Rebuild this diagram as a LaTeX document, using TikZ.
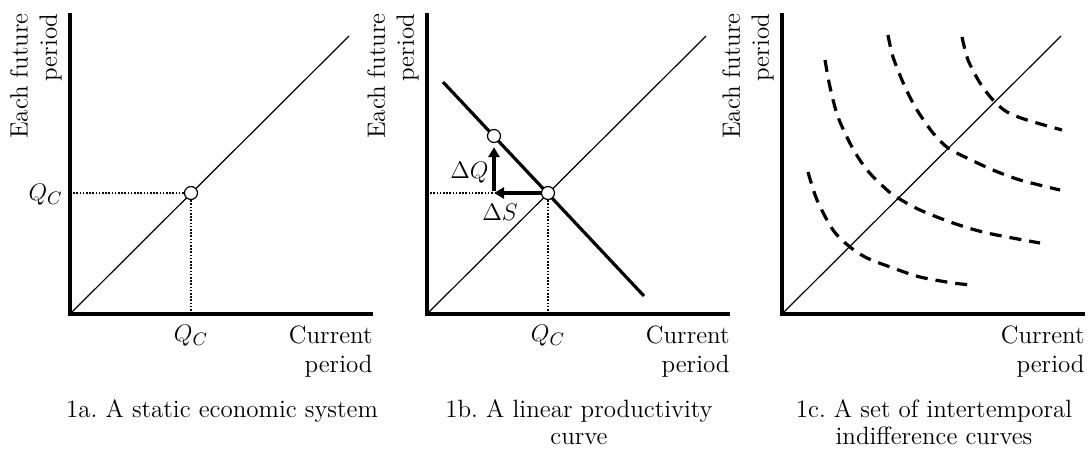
\documentclass[tikz,border=0pt]{standalone}
\usepackage{amsmath}
\usepackage{tikz}
\usetikzlibrary{arrows.meta, positioning}
\frenchspacing

\begin{document}
\begin{tikzpicture}[
  x=0.5pt, y=-0.5pt,
  axis/.style={line width=2pt},
  diag/.style={line width=0.6pt},
  guide/.style={line width=0.6pt, dash pattern=on 0.8pt off 0.8pt},
  dot/.style={circle, draw, fill=white, line width=0.6pt,
              minimum size=6.5pt, inner sep=0pt},
  prodline/.style={line width=1.6pt},
  move/.style={-{Triangle[length=5pt, width=5.5pt]}, line width=1.6pt},
  indiff/.style={line width=1.6pt, dash pattern=on 6pt off 4pt},
  lbl/.style={font=\fontsize{12.5}{14.5}\selectfont, inner sep=0pt},
  caption/.style={font=\fontsize{12.5}{13.8}\selectfont, inner sep=0pt,
                  anchor=north, align=center},
]
  \useasboundingbox (0,0) rectangle (1092,450);

  % the three frames
  \foreach \p/\dx in {a/0, b/357, c/712} {
    \begin{scope}[shift={(\dx,0)}]
      \coordinate (\p-o) at (70,314);
      \coordinate (\p-top) at (70,13);
      \coordinate (\p-end) at (373,314);
      \coordinate (\p-diag) at (349,36);
      \draw[axis] (\p-top) -- (\p-o) -- (\p-end);
      \draw[diag] (\p-o) -- (\p-diag);
      \node[lbl, rotate=90, anchor=south east, align=right] (\p-ylab) at (62,13) {Each future\\period};
      \node[lbl, anchor=north east, align=right] (\p-xlab) at (373,325) {Current\\period};
    \end{scope}
  }

  % 1a
  \node[dot] (a-eq) at (191,193) {};
  \coordinate (a-qy) at (70,193);
  \coordinate (a-qx) at (191,314);
  \draw[guide] (a-qy) -- (a-eq.west);
  \draw[guide] (a-eq.south) -- (a-qx);
  \node[lbl, anchor=base east] (a-qlab) at (63,200) {$Q_C$};
  \node[lbl, anchor=north] (a-qxlab) at (191,325) {$Q_C$};
  \node[caption] (a-cap) at (222,399) {1a. A static economic system};

  % 1b
  \coordinate (b-p1) at (443,82);
  \coordinate (b-p2) at (644,296);
  \draw[prodline] (b-p1) -- (b-p2);
  \node[dot] (b-eq) at (548,193) {};
  \node[dot] (b-up) at (494,136) {};
  \coordinate (b-qy) at (427,193);
  \coordinate (b-corner) at (494,193);
  \coordinate (b-qx) at (548,314);
  \draw[guide] (b-qy) -- (b-corner);
  \draw[guide] (b-eq.south) -- (b-qx);
  \draw[move] (b-eq.west) -- (b-corner);
  \draw[move, shorten >=2pt] ([yshift=0.8pt]b-corner) -- (b-up.south);
  \node[lbl, anchor=east] (b-dq) at (489,173) {$\Delta Q$};
  \node[lbl] (b-ds) at (500,212) {$\Delta S$};
  \node[lbl, anchor=north] (b-qxlab) at (548,325) {$Q_C$};
  \node[caption] (b-cap) at (579,399) {1b. A linear productivity\\curve};

  % 1c
  \draw[indiff] plot[smooth] coordinates {(808,172) (817,200) (833,230) (850,247)
    (867,258) (893,268) (920,277) (953,283) (973,285)};
  \draw[indiff] plot[smooth] coordinates {(825,60) (830,87) (838,117) (852,147)
    (867,170) (887,190) (898,198) (920,210) (953,223) (987,233) (1040,243)};
  \draw[indiff] plot[smooth] coordinates {(888,35) (893,57) (905,87) (917,110)
    (933,133) (948,148) (967,158) (993,170) (1020,180) (1060,190)};
  \draw[indiff] plot[smooth] coordinates {(962,37) (968,60) (980,83) (993,100)
    (1007,112) (1027,120) (1062,130)};
  \node[caption] (c-cap) at (934,399) {1c. A set of intertemporal\\indifference curves};
\end{tikzpicture}
\end{document}
